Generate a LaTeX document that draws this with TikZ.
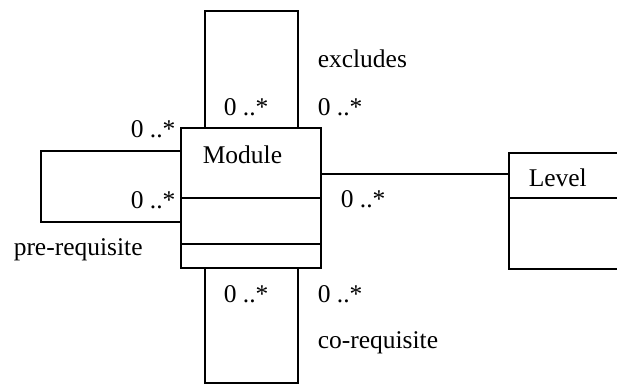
\documentclass[tikz,border=0pt]{standalone}
\usepackage{fontspec}
\setmainfont{Liberation Serif}
\begin{document}
\begin{tikzpicture}[x=1pt,y=-1pt,
  line width=1.5pt,
  classbox/.style={draw,rectangle,inner sep=0pt},
  lbl/.style={anchor=base west,inner sep=0pt,font=\fontsize{25.5}{30}\selectfont},
  assoc/.style={draw,line join=miter}]
\clip (0,0) rectangle (617,385);

% classes
\node[classbox,minimum width=140pt,minimum height=140pt] (module) at (251,198) {};
\node[classbox,minimum width=130pt,minimum height=116pt,anchor=north west] (level) at (508,152) {};

% compartment separators
\draw (module.west |- 0,198) -- (module.east |- 0,198);
\draw (module.west |- 0,244) -- (module.east |- 0,244);
\draw (level.west |- 0,198) -- (level.east |- 0,198);

% corner points of the reflexive associations
\coordinate (ta) at (205,11);
\coordinate (tb) at (298,11);
\coordinate (ba) at (205,383);
\coordinate (bb) at (298,383);
\coordinate (la) at (41,151);
\coordinate (lb) at (41,222);

% excludes (top loop)
\draw[assoc] (module.north west -| ta) -- (ta) -- (tb) -- (module.north west -| tb);
% co-requisite (bottom loop)
\draw[assoc] (module.south west -| ba) -- (ba) -- (bb) -- (module.south west -| bb);
% pre-requisite (left loop)
\draw[assoc] (module.west |- la) -- (la) -- (lb) -- (module.west |- lb);
% Module -- Level
\draw[assoc] (module.east |- 0,174) -- (level.west |- 0,174);

% texts
\node[lbl] (tmodule) at (202,163) {Module};
\node[lbl] (tlevel) at (528,186) {Level};
\node[lbl] (texcl) at (317,68) {excludes};
\node[lbl] (tco) at (317,348) {co-requisite};
\node[lbl] (tpre) at (13,255) {pre-requisite};
\node[lbl] (m1) at (223,115) {0 ..*};
\node[lbl] (m2) at (317,115) {0 ..*};
\node[lbl] (m3) at (130,137) {0 ..*};
\node[lbl] (m4) at (130,208) {0 ..*};
\node[lbl] (m5) at (340,207) {0 ..*};
\node[lbl] (m6) at (223,302) {0 ..*};
\node[lbl] (m7) at (317,302) {0 ..*};
\end{tikzpicture}
\end{document}
